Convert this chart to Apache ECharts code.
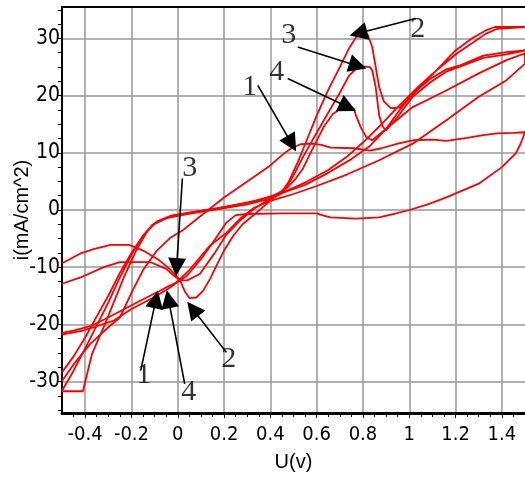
<!DOCTYPE html>
<html>
<head>
<meta charset="utf-8">
<script src="https://cdn.jsdelivr.net/npm/echarts@6/dist/echarts.min.js"></script>
<style>html,body{margin:0;padding:0;background:#fff}#c{width:525px;height:478px}</style>
</head>
<body>
<div id="c"></div>
<script>
// ---- tick values ----
const xTicks = [-0.4, -0.2, 0, 0.2, 0.4, 0.6, 0.8, 1, 1.2, 1.4];
const xMinorTicks = [-0.45, -0.35, -0.3, -0.25, -0.15, -0.1, -0.05, 0.05, 0.1, 0.15, 0.25, 0.3, 0.35, 0.45, 0.5, 0.55, 0.65, 0.7, 0.75, 0.85, 0.9, 0.95, 1.05, 1.1, 1.15, 1.25, 1.3, 1.35, 1.45];
const yTicks = [-30, -20, -10, 0, 10, 20, 30];
const yMinorTicks = [-35, -32.5, -27.5, -25, -22.5, -17.5, -15, -12.5, -7.5, -5, -2.5, 2.5, 5, 7.5, 12.5, 15, 17.5, 22.5, 25, 27.5, 32.5, 35];

// ---- curves: [U (V), i (mA/cm^2)] ----
const curve1 = [
  [-0.5,-29.9],[-0.45,-27],[-0.38,-23.5],[-0.3,-20.5],[-0.25,-18.8],[-0.2,-14.5],[-0.15,-10.5],[-0.09,-7.1],[-0.03,-4.8],[0.02,-3.6],[0.1,-1],[0.2,2.2],[0.3,5],[0.4,7.8],[0.45,9.6],[0.49,10.8],[0.53,11.5],[0.58,11.6],[0.62,11.4],[0.66,10.9],[0.76,10.8],[0.83,10.4],[0.88,10.8],[0.95,11.6],[1.02,12.2],[1.1,12.3],[1.16,12.1],[1.25,12.6],[1.32,13.1],[1.38,13.4],[1.45,13.5],[1.5,13.6],
  [1.48,11.5],[1.46,9.9],[1.4,7.5],[1.3,4.6],[1.16,2.2],[1.08,1.0],[1.0,0.0],[0.93,-0.7],[0.87,-1.3],[0.77,-1.5],[0.66,-1.3],[0.63,-1.0],[0.6,-0.6],[0.45,-0.6],[0.3,-0.7],[0.25,-0.9],[0.21,-2.2],[0.16,-5.2],[0.1,-8.6],[0.04,-11.5],[0.0,-12.6],[-0.04,-13.3],[-0.08,-14.2],[-0.15,-15.6],[-0.22,-17.1],[-0.3,-18.8],[-0.37,-20.2],[-0.45,-21.1],[-0.5,-21.5]
];
const curve2 = [
  [-0.5,-31.7],[-0.41,-31.7],[-0.37,-25.1],[-0.32,-20.5],[-0.28,-16.5],[-0.23,-11.5],[-0.18,-7.1],[-0.13,-3.6],[-0.09,-2.0],[-0.03,-1.0],[0.04,-0.5],[0.17,0.3],[0.3,1.3],[0.4,2.3],[0.45,3.2],[0.48,5],[0.52,8.5],[0.56,12.5],[0.6,16.5],[0.65,21],[0.7,25],[0.74,28.3],[0.77,30.2],[0.79,30.7],[0.82,30.7],[0.84,28.5],[0.855,25],[0.87,21.5],[0.89,19],[0.92,17.8],[0.96,17.9],[1.0,19.5],[1.09,23.3],[1.2,27.9],[1.27,30],[1.33,31.4],[1.37,32],[1.5,32],
  [1.38,31.7],[1.33,30.8],[1.25,28.6],[1.2,27.2],[1.1,23.8],[1.03,21.2],[0.95,18],[0.87,14.6],[0.8,11.8],[0.73,9.3],[0.65,7],[0.55,4.8],[0.46,3.2],[0.41,2.0],[0.37,0.6],[0.33,-0.8],[0.28,-2.5],[0.24,-4.5],[0.2,-7.1],[0.17,-9.5],[0.14,-12],[0.11,-14.1],[0.08,-15.3],[0.05,-15.4],[0.03,-14.2],[0.01,-12.3],[-0.035,-10.3],[-0.08,-8.8],[-0.15,-7.1],[-0.21,-6.1],[-0.29,-6.1],[-0.36,-6.8],[-0.42,-7.6],[-0.5,-9.3]
];
const curve3 = [
  [-0.5,-31.6],[-0.45,-28.1],[-0.39,-23.4],[-0.34,-19.4],[-0.3,-16.2],[-0.25,-11.8],[-0.2,-7.8],[-0.15,-4.5],[-0.11,-2.6],[-0.05,-1.4],[0.04,-0.7],[0.17,0.1],[0.3,1.0],[0.4,2.0],[0.46,3.5],[0.5,6],[0.54,9.2],[0.6,13.5],[0.65,17],[0.7,20.5],[0.74,23.5],[0.77,24.7],[0.8,25.1],[0.83,25.0],[0.84,24.4],[0.855,21.5],[0.87,16.5],[0.885,14.6],[0.9,13.9],[0.95,16.3],[1.015,19.8],[1.09,22.3],[1.16,24.2],[1.32,26.6],[1.42,27.2],[1.5,27.9],
  [1.42,27.6],[1.32,27.0],[1.22,25.3],[1.16,24.6],[1.09,22.9],[1.015,20.4],[0.95,17.0],[0.9,14.2],[0.83,11.2],[0.75,8.9],[0.65,6.5],[0.55,4.4],[0.44,2.8],[0.38,1.5],[0.33,0.2],[0.27,-1.8],[0.21,-4.3],[0.16,-7.5],[0.095,-11.2],[0.04,-12.3],[0.01,-12.3],[-0.02,-11.4],[-0.05,-10.3],[-0.12,-9.1],[-0.25,-9.1],[-0.32,-10],[-0.42,-11.8],[-0.5,-12.9]
];
const curve4 = [
  [-0.5,-28.4],[-0.45,-25.6],[-0.4,-22.3],[-0.35,-18.6],[-0.3,-15],[-0.25,-11],[-0.2,-7.5],[-0.15,-4.5],[-0.1,-2.4],[-0.04,-1.3],[0.05,-0.5],[0.2,0.5],[0.33,1.5],[0.42,2.6],[0.47,3.8],[0.51,5.5],[0.54,7.2],[0.58,10.5],[0.63,14.5],[0.67,16.8],[0.7,17.6],[0.73,17.8],[0.76,17.8],[0.77,16.5],[0.79,14.5],[0.815,12.7],[0.84,12.2],[0.9,14.2],[1.015,18],[1.16,20.9],[1.3,23.9],[1.42,26.2],[1.5,27.4],
  [1.5,25.6],[1.42,22.7],[1.3,19.8],[1.16,15.7],[1.015,11.6],[0.87,8.7],[0.73,6.2],[0.6,4.2],[0.5,2.8],[0.4,1.6],[0.33,0.4],[0.27,-1.5],[0.21,-4.0],[0.14,-6.2],[0.05,-10.5],[-0.02,-13.2],[-0.09,-15],[-0.2,-17.3],[-0.28,-19.4],[-0.34,-20.2],[-0.41,-21.1],[-0.45,-21.4],[-0.5,-21.8]
];

// ---- annotations (data coordinates) ----
const labelPoints = [
  [0.311, 21.5, '1'], [1.037, 31.6, '2'], [0.479, 30.6, '3'], [0.428, 24.1, '4'],
  [-0.147, -28.8, '1'], [0.22, -26.0, '2'], [0.052, 7.4, '3'], [0.048, -31.8, '4']
];
const arrowLines = [
  [[0.346, 21.8], [0.492, 11.6]],
  [[1.028, 33.5], [0.78, 30.9]],
  [[0.518, 28.5], [0.778, 25.2]],
  [[0.475, 23.0], [0.735, 18.0]],
  [[-0.16, -28.1], [-0.094, -15.6]],
  [[0.21, -24.9], [0.065, -17.3]],
  [[0.02, 5.5], [-0.005, -10.0]],
  [[0.03, -30.4], [-0.04, -15.6]]
];

const chart = echarts.init(document.getElementById('c'), null, {renderer: 'canvas'});
const tickFont = "'Liberation Sans Narrow', 'Arial Narrow', 'DejaVu Sans Condensed', 'Liberation Sans', sans-serif";
const redLine = data => ({
  type: 'line', data: data, showSymbol: false, symbol: 'none', clip: true,
  lineStyle: {color: '#ff0000', width: 1.8}, z: 3, silent: true
});

chart.setOption({
  animation: false,
  backgroundColor: '#ffffff',
  grid: {left: 62, right: 0, top: 7, bottom: 65, outerBoundsMode: 'none', containLabel: false},
  xAxis: [
    {
      type: 'value', min: -0.5, max: 1.5, position: 'bottom',
      name: 'U(v)', nameLocation: 'middle', nameGap: 39, nameMoveOverlap: false,
      nameTextStyle: {fontFamily: 'Liberation Sans', fontSize: 20, color: '#000'},
      axisLine: {show: true, onZero: false, lineStyle: {color: '#000', width: 3}},
      axisTick: {show: true, customValues: xTicks, length: 5, lineStyle: {color: '#000', width: 1}},
      axisLabel: {show: true, customValues: xTicks, margin: 12, fontFamily: tickFont, fontSize: 20, color: '#000',
        formatter: v => String(v)},
      splitLine: {show: true, lineStyle: {color: '#999999', width: 1.5}}
    },
    {
      type: 'value', min: -0.5, max: 1.5, position: 'top',
      axisLine: {show: true, onZero: false, lineStyle: {color: '#000', width: 2}},
      axisTick: {show: false}, axisLabel: {show: false}, splitLine: {show: false}
    },
    {
      type: 'value', min: -0.5, max: 1.5, position: 'bottom',
      axisLine: {show: false, onZero: false},
      axisTick: {show: true, customValues: xMinorTicks, length: 4, lineStyle: {color: '#000', width: 1}},
      axisLabel: {show: false}, splitLine: {show: false}
    }
  ],
  yAxis: [
    {
      type: 'value', min: -35.5, max: 35.5, position: 'left',
      name: 'i(mA/cm^2)', nameLocation: 'middle', nameGap: 30, nameRotate: 90, nameMoveOverlap: false,
      nameTextStyle: {fontFamily: 'Liberation Sans', fontSize: 20, color: '#000'},
      axisLine: {show: true, onZero: false, lineStyle: {color: '#000', width: 2}},
      axisTick: {show: true, customValues: yTicks, length: 5, lineStyle: {color: '#000', width: 1}},
      axisLabel: {show: true, customValues: yTicks, margin: 2, fontFamily: tickFont, fontSize: 21, color: '#000'},
      splitLine: {show: true, lineStyle: {color: '#999999', width: 1.5}}
    },
    {
      type: 'value', min: -35.5, max: 35.5, position: 'left',
      axisLine: {show: false, onZero: false},
      axisTick: {show: true, customValues: yMinorTicks, length: 4, lineStyle: {color: '#000', width: 1}},
      axisLabel: {show: false}, splitLine: {show: false}
    }
  ],
  series: [
    redLine(curve1), redLine(curve2), redLine(curve3), redLine(curve4),
    {
      type: 'lines', coordinateSystem: 'cartesian2d', xAxisIndex: 0, yAxisIndex: 0,
      symbol: ['none', 'triangle'], symbolSize: [12, 18],
      lineStyle: {color: '#000', width: 1.6, opacity: 1, curveness: 0},
      data: arrowLines.map(c => ({coords: c})), silent: true, z: 5
    },
    {
      type: 'scatter', symbolSize: 1, itemStyle: {color: 'rgba(0,0,0,0)'}, silent: true, z: 6,
      data: labelPoints.map(p => ({value: [p[0], p[1]], name: p[2]})),
      label: {show: true, position: 'inside', formatter: p => p.name,
        fontFamily: "'Liberation Serif', 'Times New Roman', serif", fontSize: 30, color: '#000'}
    }
  ]
});
</script>
</body>
</html>
